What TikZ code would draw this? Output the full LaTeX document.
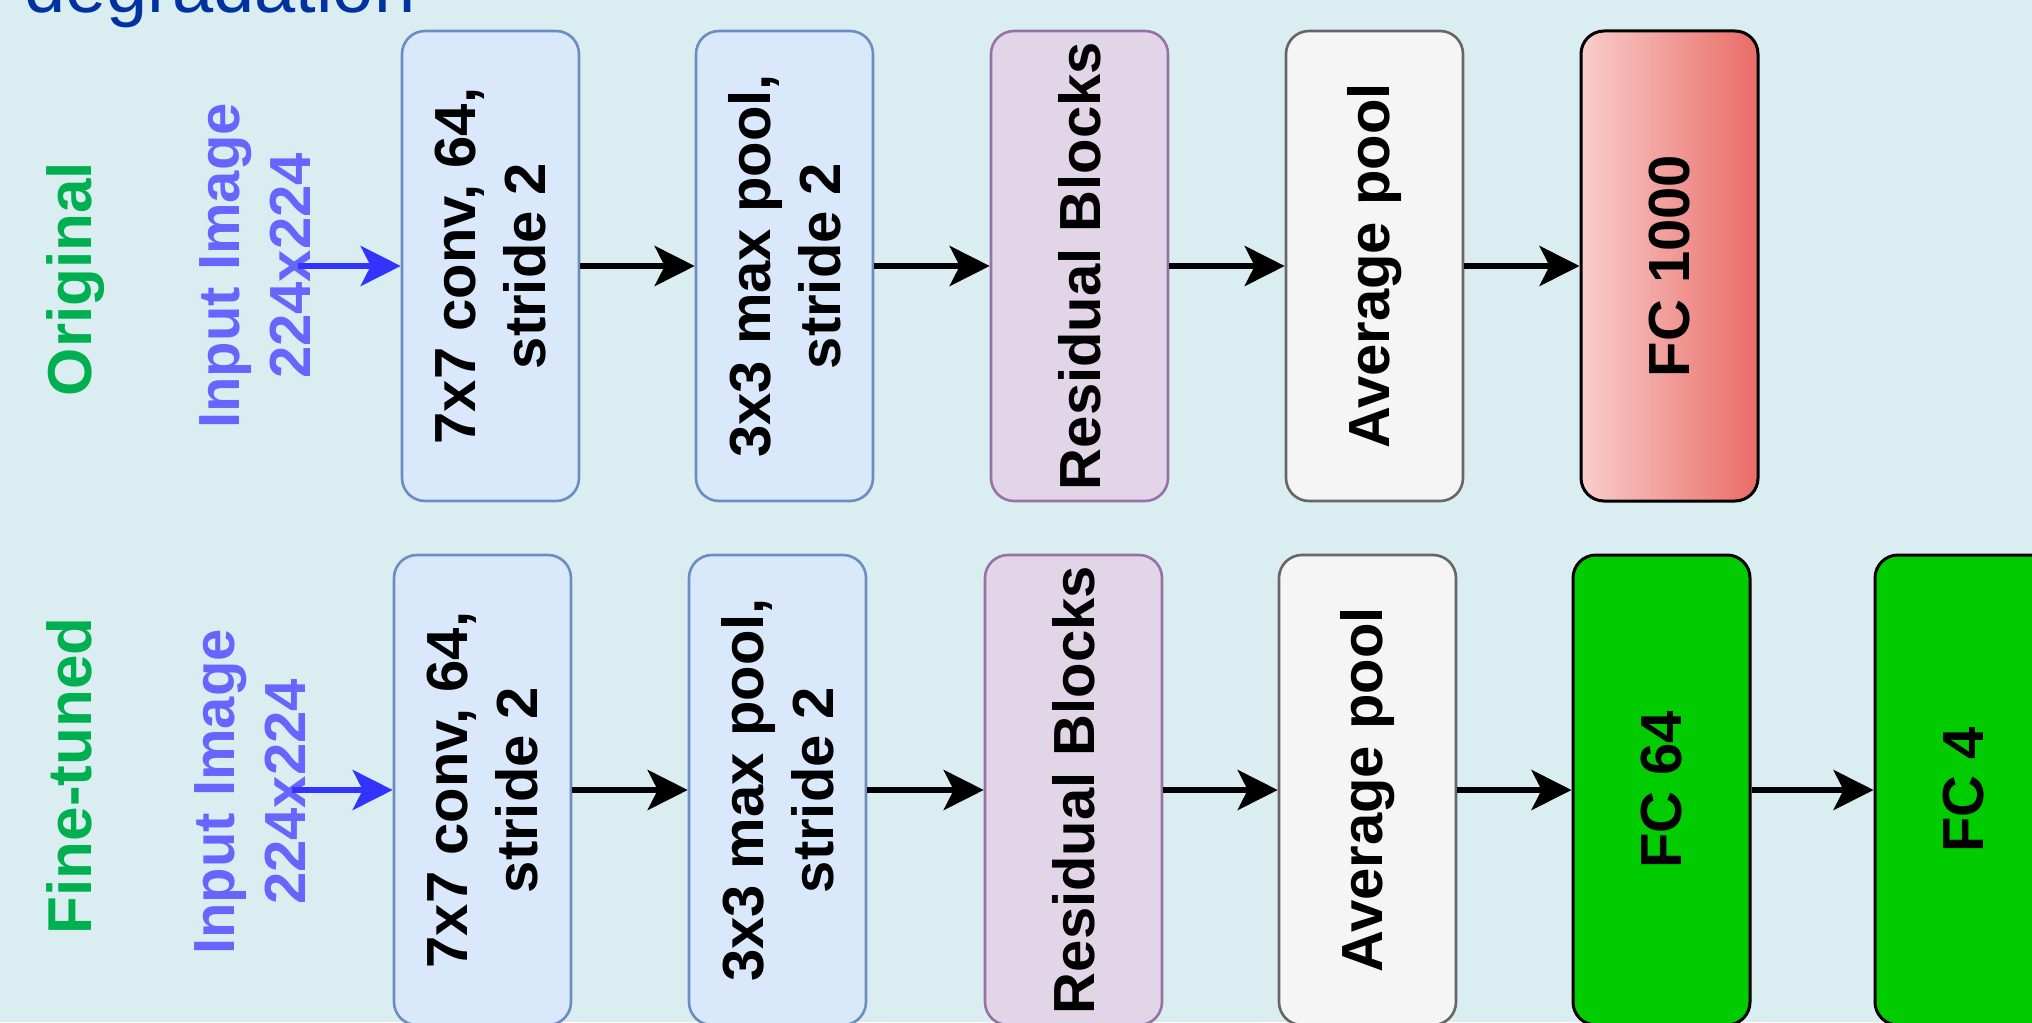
\documentclass[tikz,border=0pt]{standalone}
\usepackage{fontspec}
\setmainfont{Liberation Sans}
\usetikzlibrary{arrows.meta}
\definecolor{bgc}{HTML}{DAEDF0}
\definecolor{bluef}{HTML}{DAE8FC}
\definecolor{blued}{HTML}{6C8EBF}
\definecolor{purf}{HTML}{E1D5E7}
\definecolor{purd}{HTML}{9673A6}
\definecolor{greyf}{HTML}{F5F5F5}
\definecolor{greyd}{HTML}{666666}
\definecolor{redl}{HTML}{F8CECC}
\definecolor{redd}{HTML}{EA6B66}
\definecolor{grn}{HTML}{00CC00}
\definecolor{sidegreen}{HTML}{00B050}
\definecolor{inviolet}{HTML}{6666FF}
\definecolor{inblue}{HTML}{3333FF}
\definecolor{titleblue}{HTML}{0033A0}
\begin{document}
\begin{tikzpicture}[x=0.5pt,y=-0.5pt,
  lbl/.style={font=\bfseries\fontsize{29pt}{35pt}\selectfont, align=center, rotate=90, inner sep=0pt},
  blk/.style={lbl, draw, rounded corners=11.5pt, minimum width=235pt, minimum height=88.5pt, line width=1.3pt},
  bluebox/.style={blk, fill=bluef, draw=blued},
  purbox/.style={blk, fill=purf, draw=purd},
  greybox/.style={blk, fill=greyf, draw=greyd},
  redbox/.style={blk, draw=black, line width=1.5pt, left color=redl, right color=redd},
  grnbox/.style={blk, fill=grn, draw=black, line width=1.5pt},
  arr/.style={line width=2.8pt, -{Stealth[length=20pt,width=20pt,inset=5pt]}},
  inarr/.style={arr, draw=inblue, fill=inblue},
  side/.style={font=\bfseries\fontsize{31pt}{37pt}\selectfont, text=sidegreen, rotate=90, inner sep=0pt, anchor=base},
  inlbl/.style={font=\bfseries\fontsize{29pt}{35.5pt}\selectfont, text=inviolet, align=center, rotate=90, inner sep=0pt},
]
\useasboundingbox (0,0) rectangle (2032,1022);
\clip (0,0) rectangle (2032,1022);
\fill[bgc] (0,0) rectangle (2032,1022);

\node[anchor=base west, inner sep=0pt, text=titleblue, font=\fontsize{37pt}{44pt}\selectfont] (title) at (24,12.7) {degradation};

% labels
\node[side] (orig) at (91,279) {Original};
\node[side] (fine) at (91,776) {Fine-tuned};
\node[inlbl] (in1) at (254.75,266) {Input Image\\224x224};
\node[inlbl] (in2) at (250.25,792) {Input Image\\224x224};

% top row
\node[bluebox] (a1) at (490.5,266) {7x7 conv, 64,\\stride 2};
\node[bluebox] (a2) at (784.5,266) {3x3 max pool,\\stride 2};
\node[purbox]  (a3) at (1079.5,266) {Residual Blocks};
\node[greybox] (a4) at (1374.5,266) {Average pool};
\node[redbox]  (a5) at (1669.5,266) {FC 1000};

% bottom row
\node[bluebox] (b1) at (482.5,790) {7x7 conv, 64,\\stride 2};
\node[bluebox] (b2) at (777.5,790) {3x3 max pool,\\stride 2};
\node[purbox]  (b3) at (1073.5,790) {Residual Blocks};
\node[greybox] (b4) at (1367.5,790) {Average pool};
\node[grnbox]  (b5) at (1661.5,790) {FC 64};
\node[grnbox]  (b6) at (1963.5,790) {FC 4};

% input arrows
\coordinate (ia) at (298,266);
\coordinate (ib) at (292,790);
\draw[inarr] (ia) -- (a1.north);
\draw[inarr] (ib) -- (b1.north);

% connectors
\draw[arr] (a1.south) -- (a2.north);
\draw[arr] (a2.south) -- (a3.north);
\draw[arr] (a3.south) -- (a4.north);
\draw[arr] (a4.south) -- (a5.north);
\draw[arr] (b1.south) -- (b2.north);
\draw[arr] (b2.south) -- (b3.north);
\draw[arr] (b3.south) -- (b4.north);
\draw[arr] (b4.south) -- (b5.north);
\draw[arr] (b5.south) -- (b6.north);
\end{tikzpicture}
\end{document}
